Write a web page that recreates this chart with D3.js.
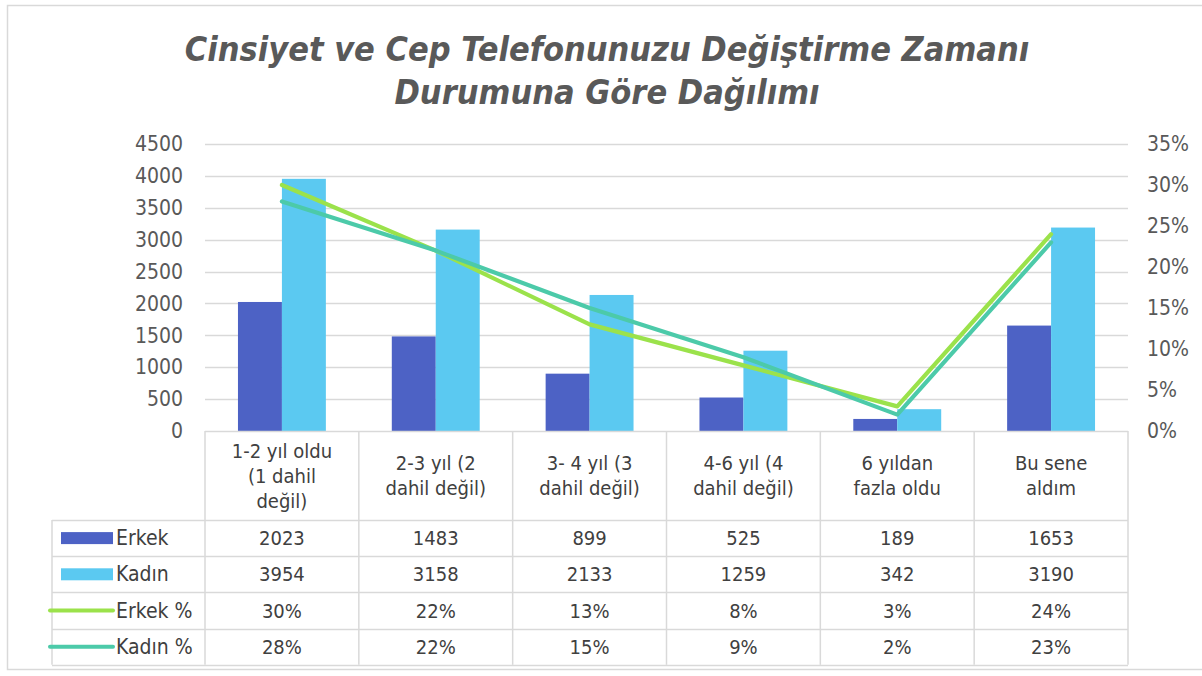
<!DOCTYPE html>
<html lang="en">
<head>
<meta charset="utf-8">
<style>
  body { margin: 0; background: #fff; }
  svg text { font-family: "DejaVu Sans Condensed", "DejaVu Sans", sans-serif; font-stretch: condensed; }
</style>
</head>
<body>
<div id="chart"></div>
<script src="https://d3js.org/d3.v7.min.js"></script>
<script>
var width = 1202, height = 676;

// data
var categories = [
  ["1-2 yıl oldu", "(1 dahil", "değil)"],
  ["2-3 yıl (2", "dahil değil)"],
  ["3- 4 yıl (3", "dahil değil)"],
  ["4-6 yıl (4", "dahil değil)"],
  ["6 yıldan", "fazla oldu"],
  ["Bu sene", "aldım"]
];
var erkek = [2023, 1483, 899, 525, 189, 1653];
var kadin = [3954, 3158, 2133, 1259, 342, 3190];
var erkekPct = [30, 22, 13, 8, 3, 24];
var kadinPct = [28, 22, 15, 9, 2, 23];
var leftTicks = [0, 500, 1000, 1500, 2000, 2500, 3000, 3500, 4000, 4500];
var rightTicks = [0, 5, 10, 15, 20, 25, 30, 35];

var barSeries = ["Erkek", "Kadın"];
var colors = { "Erkek": "#4d62c5", "Kadın": "#5bc9f1", "Erkek %": "#9be24b", "Kadın %": "#4ccaa9" };

var plotLeft = 205, plotRight = 1128, plotTop = 144, plotBottom = 431;
var tableLeft = 52;
var headerBottom = 520, rowH = 36.2;
var fs = "19px";

var svg = d3.select("#chart").append("svg")
  .attr("width", width).attr("height", height);

// outer frame
svg.append("rect")
  .attr("x", 7.5).attr("y", 5.5).attr("width", 1200).attr("height", 664)
  .attr("fill", "none").attr("stroke", "#d9d9d9").attr("stroke-width", 1.5);

// title
var title = svg.append("text")
  .attr("text-anchor", "middle")
  .attr("fill", "#595959")
  .style("font-size", "34px").style("font-weight", "bold").style("font-style", "italic");
title.append("tspan").attr("x", 607).attr("y", 61).text("Cinsiyet ve Cep Telefonunuzu Değiştirme Zamanı");
title.append("tspan").attr("x", 607).attr("y", 104).text("Durumuna Göre Dağılımı");

var idx = d3.range(categories.length);
var x = d3.scaleBand().domain(idx).range([plotLeft, plotRight]);
var x1 = d3.scaleBand().domain(barSeries).range([0, x.bandwidth()]).paddingOuter(0.75);
var y = d3.scaleLinear().domain([0, 4500]).range([plotBottom, plotTop]);
var yR = d3.scaleLinear().domain([0, 35]).range([plotBottom, plotTop]);

// gridlines
svg.append("g").selectAll("line").data(leftTicks.slice(1)).enter().append("line")
  .attr("x1", plotLeft).attr("x2", plotRight)
  .attr("y1", function(d) { return Math.round(y(d)) + 0.5; })
  .attr("y2", function(d) { return Math.round(y(d)) + 0.5; })
  .attr("stroke", "#d9d9d9").attr("stroke-width", 1.3);

// axes
var axL = svg.append("g").attr("transform", "translate(" + (plotLeft - 22) + ",0)")
  .call(d3.axisLeft(y).tickValues(leftTicks).tickSize(0).tickPadding(0).tickFormat(d3.format("d")));
var axR = svg.append("g").attr("transform", "translate(" + (plotRight + 19) + ",0)")
  .call(d3.axisRight(yR).tickValues(rightTicks).tickSize(0).tickPadding(0).tickFormat(function(d) { return d + "%"; }));
[axL, axR].forEach(function(a) {
  a.select(".domain").remove();
  a.selectAll("text").attr("fill", "#595959").style("font-size", "21px")
    .style("font-family", "'DejaVu Sans Condensed', 'DejaVu Sans', sans-serif");
});

// bars
var groups = svg.append("g").selectAll("g").data(idx).enter().append("g")
  .attr("transform", function(i) { return "translate(" + x(i) + ",0)"; });
groups.selectAll("rect")
  .data(function(i) { return [{ s: "Erkek", v: erkek[i] }, { s: "Kadın", v: kadin[i] }]; })
  .enter().append("rect")
  .attr("x", function(d) { return x1(d.s); })
  .attr("width", x1.bandwidth())
  .attr("y", function(d) { return y(d.v); })
  .attr("height", function(d) { return plotBottom - y(d.v); })
  .attr("fill", function(d) { return colors[d.s]; });

// lines
var line = d3.line()
  .x(function(d, i) { return x(i) + x.bandwidth() / 2; })
  .y(function(d) { return yR(d); });
[["Erkek %", erkekPct], ["Kadın %", kadinPct]].forEach(function(s) {
  svg.append("path").datum(s[1])
    .attr("d", line)
    .attr("fill", "none")
    .attr("stroke", colors[s[0]])
    .attr("stroke-width", 4.2)
    .attr("stroke-linecap", "round")
    .attr("stroke-linejoin", "round");
});

// data table
var tbl = svg.append("g");
var grid = "#d9d9d9";
var tableBottom = headerBottom + rowH * 4;
tbl.append("line").attr("x1", plotLeft).attr("x2", plotRight).attr("y1", plotBottom + 0.5).attr("y2", plotBottom + 0.5)
  .attr("stroke", grid).attr("stroke-width", 1.5);
d3.range(5).forEach(function(r) {
  var yy = Math.round(headerBottom + r * rowH) + 0.5;
  tbl.append("line").attr("x1", tableLeft).attr("x2", plotRight).attr("y1", yy).attr("y2", yy)
    .attr("stroke", grid).attr("stroke-width", 1.5);
});
idx.concat([categories.length]).forEach(function(i) {
  var xx = (i < categories.length ? x(i) : plotRight);
  tbl.append("line").attr("x1", xx).attr("x2", xx).attr("y1", plotBottom).attr("y2", tableBottom)
    .attr("stroke", grid).attr("stroke-width", 1.5);
});
tbl.append("line").attr("x1", tableLeft).attr("x2", tableLeft).attr("y1", headerBottom).attr("y2", tableBottom)
  .attr("stroke", grid).attr("stroke-width", 1.5);

// header labels
idx.forEach(function(i) {
  var lines = categories[i];
  var cy = (plotBottom + headerBottom) / 2;
  var t = tbl.append("text").attr("text-anchor", "middle").attr("fill", "#404040")
    .style("font-size", "20px");
  lines.forEach(function(l, k) {
    t.append("tspan").attr("x", x(i) + x.bandwidth() / 2)
      .attr("y", cy + (k - (lines.length - 1) / 2) * 25 + 7)
      .text(l);
  });
});

// rows
var rows = [
  { name: "Erkek", vals: erkek, fmt: function(v) { return v; }, kind: "bar" },
  { name: "Kadın", vals: kadin, fmt: function(v) { return v; }, kind: "bar" },
  { name: "Erkek %", vals: erkekPct, fmt: function(v) { return v + "%"; }, kind: "line" },
  { name: "Kadın %", vals: kadinPct, fmt: function(v) { return v + "%"; }, kind: "line" }
];
rows.forEach(function(r, k) {
  var cy = headerBottom + rowH * (k + 0.5);
  if (r.kind === "bar") {
    tbl.append("rect").attr("x", 61).attr("y", cy - 6).attr("width", 52).attr("height", 12)
      .attr("fill", colors[r.name]);
  } else {
    tbl.append("line").attr("x1", 50).attr("x2", 113).attr("y1", cy).attr("y2", cy)
      .attr("stroke", colors[r.name]).attr("stroke-width", 4).attr("stroke-linecap", "round");
  }
  tbl.append("text").attr("x", 116).attr("y", cy + 7).attr("fill", "#404040")
    .style("font-size", "21px").text(r.name);
  r.vals.forEach(function(v, i) {
    tbl.append("text").attr("x", x(i) + x.bandwidth() / 2).attr("y", cy + 7)
      .attr("text-anchor", "middle").attr("fill", "#404040")
      .style("font-size", "20px").text(r.fmt(v));
  });
});
</script>
</body>
</html>
